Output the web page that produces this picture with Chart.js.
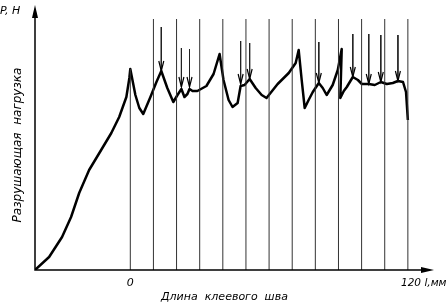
<!DOCTYPE html>
<html>
<head>
<meta charset="utf-8">
<script src="https://cdn.jsdelivr.net/npm/chart.js@4"></script>
<style>
  html, body { margin: 0; padding: 0; background: #fff; }
  #wrap { width: 447px; height: 304px; }
</style>
</head>
<body>
<div id="wrap"><canvas id="canvas"></canvas></div>
<script>
// load curve, x in mm (0 = start of seam), y in arbitrary load units
var curveX = [-41.2, -35.1, -29.5, -25.6, -22.1, -17.8, -12.6, -8.2, -4.8, -1.7, -0.4, 0,
    2.2, 3.9, 5.6, 8.7, 11.3, 13.4, 16.0, 18.6, 20.4, 22.1, 23.4, 24.7, 25.6, 26.9, 29.0,
    32.9, 36.0, 38.6, 40.3, 42.5, 44.2, 46.4, 47.7, 49.4, 51.6, 54.2, 56.8, 58.9,
    63.7, 68.5, 71.5, 72.8, 74.1, 75.4, 77.1, 78.9, 81.5, 83.2, 84.9, 87.5, 89.7,
    91.4, 90.8, 92.3, 93.6, 96.2, 98.4, 100.1, 103.1, 105.7, 108.3, 110.9, 113.5,
    115.7, 117.9, 119.2, 120.0];
var curveY = [0, 13, 33, 53, 77, 100, 120, 137, 153, 173, 192, 201,
    175, 162, 156, 173, 188, 199, 182, 168, 175, 181, 173, 176, 181, 179, 179,
    184, 196, 216, 190, 170, 163, 167, 184, 185, 191, 182, 175, 172,
    186, 197, 207, 220, 190, 162, 170, 178, 187, 182, 175, 185, 200,
    221, 172, 179, 183, 193, 190, 186, 186, 185, 188, 186, 187,
    189, 188, 178, 150];

// vertical measuring lines every 10 mm
var gridX = [0, 10, 20, 30, 40, 50, 60, 70, 80, 90, 100, 110, 120];
var gridTop = [201, 251, 251, 251, 251, 251, 251, 251, 251, 251, 251, 251, 251];

// arrows marking breaks
var arrowX = [13.4, 22.1, 25.6, 47.7, 51.6, 81.5, 96.2, 103.1, 108.3, 115.7];
var arrowTop = [243, 222, 221, 229, 227, 228, 236, 236, 235, 235];
var arrowTip = [199, 183, 183, 186, 191, 187, 193, 186, 188, 189];

var gridData = [];
for (var i = 0; i < gridX.length; i++) {
    gridData.push({ x: gridX[i], y: 0 });
    gridData.push({ x: gridX[i], y: gridTop[i] });
    gridData.push({ x: gridX[i], y: null });
}
var shaftData = [];
for (var i = 0; i < arrowX.length; i++) {
    shaftData.push({ x: arrowX[i], y: arrowTop[i] });
    shaftData.push({ x: arrowX[i], y: arrowTip[i] });
    shaftData.push({ x: arrowX[i], y: null });
}
var curveData = [];
for (var i = 0; i < curveX.length; i++) curveData.push({ x: curveX[i], y: curveY[i] });

var decor = {
    id: 'decor',
    afterDraw: function (chart) {
        var ctx = chart.ctx;
        var a = chart.chartArea;
        var xs = chart.scales.x, ys = chart.scales.y;
        ctx.save();
        // axes
        ctx.strokeStyle = '#000';
        ctx.fillStyle = '#000';
        ctx.lineWidth = 1.5;
        ctx.beginPath();
        ctx.moveTo(a.left, a.top + 8);
        ctx.lineTo(a.left, a.bottom);
        ctx.lineTo(a.right - 8, a.bottom);
        ctx.stroke();
        ctx.beginPath();
        ctx.moveTo(a.left, a.top);
        ctx.lineTo(a.left - 3, a.top + 13);
        ctx.lineTo(a.left + 3, a.top + 13);
        ctx.closePath();
        ctx.fill();
        ctx.beginPath();
        ctx.moveTo(a.right, a.bottom);
        ctx.lineTo(a.right - 13, a.bottom - 3);
        ctx.lineTo(a.right - 13, a.bottom + 3);
        ctx.closePath();
        ctx.fill();
        // arrow heads
        ctx.lineWidth = 1.2;
        for (var i = 0; i < arrowX.length; i++) {
            var px = xs.getPixelForValue(arrowX[i]);
            var py = ys.getPixelForValue(arrowTip[i]);
            ctx.beginPath();
            ctx.moveTo(px - 2.5, py - 10);
            ctx.lineTo(px, py);
            ctx.lineTo(px + 2.5, py - 10);
            ctx.stroke();
        }
        // texts
        ctx.font = 'italic 11px "DejaVu Sans"';
        ctx.textBaseline = 'middle';
        ctx.textAlign = 'left';
        ctx.fillText('P, H', 0, 11);
        ctx.textAlign = 'center';
        ctx.fillText('0', xs.getPixelForValue(0), a.bottom + 13);
        ctx.textAlign = 'left';
        ctx.font = 'italic 10.5px "DejaVu Sans"';
        ctx.fillText('120 l,мм', 401, a.bottom + 13);
        ctx.font = 'italic 11px "DejaVu Sans"';
        ctx.fillText('Длина  клеевого  шва', 161, a.bottom + 27);
        ctx.translate(18, 145);
        ctx.rotate(-Math.PI / 2);
        ctx.textAlign = 'center';
        ctx.font = 'italic 12px "DejaVu Sans"';
        ctx.fillText('Разрушающая  нагрузка', 0, 0);
        ctx.restore();
    }
};

new Chart('canvas', {
    type: 'line',
    data: {
        datasets: [
            {
                data: gridData,
                borderColor: '#333',
                borderWidth: 1,
                pointRadius: 0,
                spanGaps: false
            },
            {
                data: shaftData,
                borderColor: '#222',
                borderWidth: 1,
                pointRadius: 0,
                spanGaps: false
            },
            {
                data: curveData,
                borderColor: '#000',
                borderWidth: 2.5,
                pointRadius: 0,
                tension: 0,
                borderJoinStyle: 'round'
            }
        ]
    },
    options: {
        responsive: true,
        maintainAspectRatio: false,
        animation: false,
        layout: { padding: { left: 35, right: 13, top: 5, bottom: 34 } },
        plugins: { legend: { display: false }, tooltip: { enabled: false } },
        scales: {
            x: { type: 'linear', min: -41.2, max: 131.3, display: false },
            y: { min: 0, max: 265, display: false }
        }
    },
    plugins: [decor]
});
</script>
</body>
</html>
